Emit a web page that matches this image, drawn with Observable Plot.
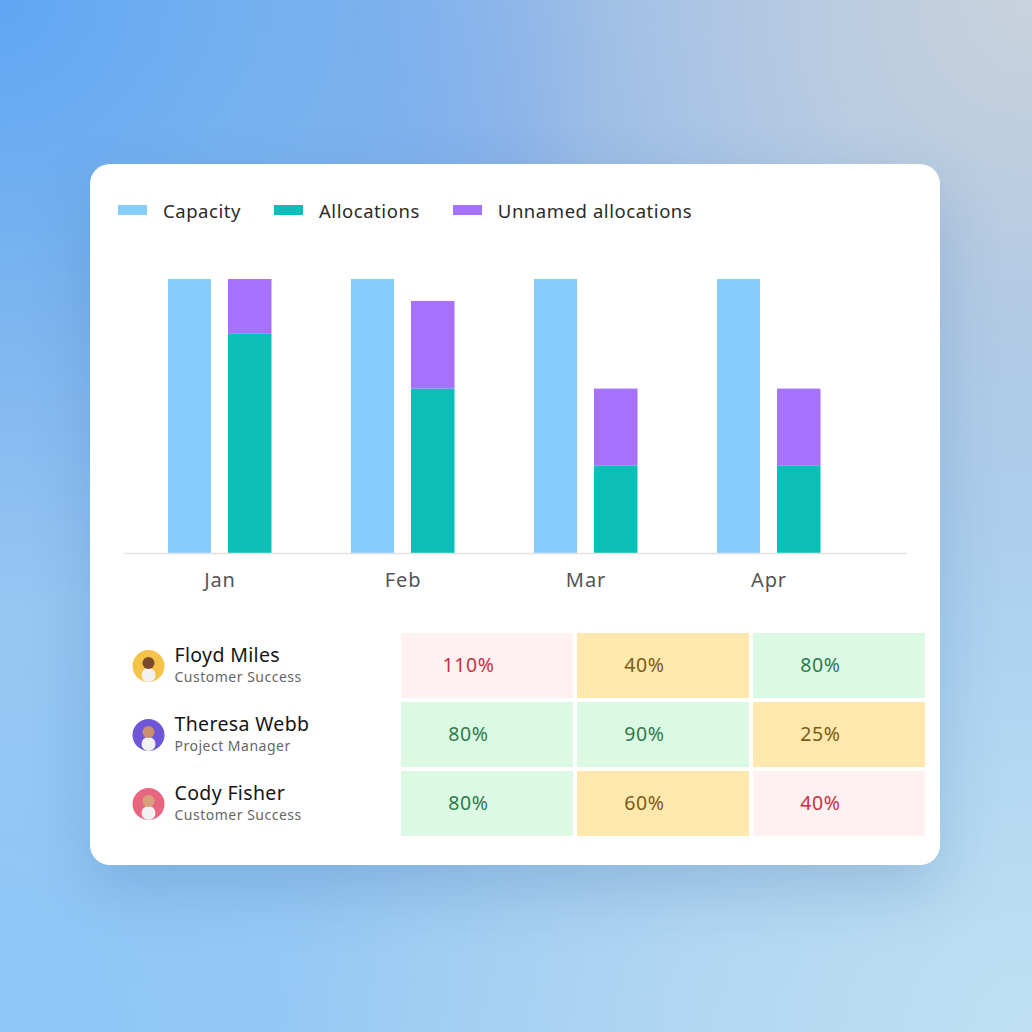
<!DOCTYPE html>
<html>
<head>
<meta charset="utf-8">
<script src="https://cdn.jsdelivr.net/npm/d3@7"></script>
<script src="https://cdn.jsdelivr.net/npm/@observablehq/plot@0.6"></script>
<style>
  html, body { margin: 0; padding: 0; }
  body {
    width: 1032px; height: 1032px; position: relative; overflow: hidden;
    font-family: "Noto Sans", "Open Sans", sans-serif;
    background:
      radial-gradient(circle at 0% 0%, #5fa7f3 0%, rgba(95,167,243,0) 42%),
      radial-gradient(circle at 100% 0%, #c9d2dc 0%, rgba(201,210,220,0) 45%),
      radial-gradient(circle at 100% 100%, #c0e0f2 0%, rgba(192,224,242,0) 50%),
      radial-gradient(circle at 0% 100%, #8dc6f7 0%, rgba(141,198,247,0) 50%),
      radial-gradient(ellipse at 50% 15%, #86b0ea 0%, rgba(134,176,234,0) 45%),
      linear-gradient(180deg, #95bdec 0%, #a2cdf1 100%);
  }
  #card {
    position: absolute; left: 90px; top: 164px; width: 850px; height: 701px;
    background: #fff; border-radius: 20px;
    box-shadow: 0 24px 60px rgba(40, 90, 150, 0.22);
  }
  #legend {
    position: absolute; left: 28px; top: 36px; height: 20px;
    display: flex; align-items: center; gap: 33px;
    font-size: 18.5px; color: #2a2a2a; letter-spacing: 0.55px;
  }
  .item { display: flex; align-items: center; gap: 16px; }
  .sw { width: 29px; height: 10px; }
  #bars { position: absolute; left: 0; top: 90px; }
  #table { position: absolute; left: 0; top: 456px; }
  #table .name { letter-spacing: 0.35px; }
  #table .role { letter-spacing: 0.5px; }
  #table .pct { letter-spacing: 0.6px; }
</style>
</head>
<body>
<div id="card">
  <div id="legend"></div>
  <div id="bars"></div>
  <div id="table"></div>
</div>
<script>
// ---- data ----
const months = ["Jan", "Feb", "Mar", "Apr"];
const capacity = [100, 100, 100, 100];
const allocations = [80, 60, 32, 32];
const unnamedAllocations = [20, 32, 28, 28];
const seriesNames = ["Capacity", "Allocations", "Unnamed allocations"];
const seriesColors = ["#84cdfc", "#0bbfb8", "#a571fd"];

const people = ["Floyd Miles", "Theresa Webb", "Cody Fisher"];
const roles = ["Customer Success", "Project Manager", "Customer Success"];
const avatarColors = ["#f6c34a", "#6f56d8", "#e8667f"];
const avatarSkin = ["#7a4a2e", "#c98f6e", "#d9a07c"];
const periods = ["Jan", "Feb", "Mar"];
const utilization = [[110, 40, 80], [80, 90, 25], [80, 60, 40]];
const levels = [["over", "under", "ok"], ["ok", "ok", "under"], ["ok", "under", "over"]];
const levelNames = ["over", "under", "ok"];
const levelFills = ["#fff0f1", "#ffe8ad", "#dcf9e4"];
const levelInks = ["#c8323f", "#7a5b16", "#2b7c4c"];

// ---- legend ----
const legend = document.getElementById("legend");
seriesNames.forEach((s, i) => {
  const it = document.createElement("div");
  it.className = "item";
  const sw = document.createElement("div");
  sw.className = "sw";
  sw.style.background = seriesColors[i];
  const lb = document.createElement("span");
  lb.textContent = s;
  it.append(sw, lb);
  legend.append(it);
});

// ---- bar chart ----
const capData = months.map((m, i) => ({month: m, series: "Capacity", value: capacity[i]}));
const allocData = months.flatMap((m, i) => [
  {month: m, series: "Allocations", value: allocations[i]},
  {month: m, series: "Unnamed allocations", value: unnamedAllocations[i]}
]);

const bars = Plot.plot({
  width: 850,
  height: 350,
  marginLeft: 34,
  marginRight: 33,
  marginTop: 25,
  marginBottom: 51,
  style: {fontFamily: "'Noto Sans', sans-serif", fontSize: "20px", color: "#555", background: "transparent", letterSpacing: "0.9px"},
  x: {domain: months, range: [37.25, 771.25], padding: 0, label: null, tickSize: 0, tickPadding: 19},
  y: {domain: [0, 100], axis: null},
  color: {domain: seriesNames, range: seriesColors},
  marks: [
    Plot.barY(capData, {x: "month", y: "value", fill: "series", insetLeft: 40, insetRight: 100}),
    Plot.barY(allocData, {x: "month", y: "value", fill: "series", insetLeft: 100, insetRight: 39.5}),
    Plot.ruleY([0], {stroke: "#e2e2e4", strokeWidth: 1.5})
  ]
});
document.getElementById("bars").append(bars);

// ---- table ----
const peopleData = people.map((p, i) => ({name: p, role: roles[i], color: avatarColors[i], skin: avatarSkin[i]}));
const tableData = people.flatMap((p, i) => periods.map((c, j) => {
  const k = levelNames.indexOf(levels[i][j]);
  return {person: p, period: c, value: utilization[i][j], fill: levelFills[k], ink: levelInks[k]};
}));

const table = Plot.plot({
  width: 850,
  height: 230,
  marginLeft: 84,
  marginRight: 12,
  marginTop: 10,
  marginBottom: 11,
  style: {fontFamily: "'Noto Sans', sans-serif", background: "transparent"},
  x: {domain: periods, range: [308, 838], padding: 0, axis: null},
  y: {domain: people, padding: 0, axis: null},
  color: {type: "identity"},
  marks: [
    Plot.cell(tableData, {x: "period", y: "person", fill: "fill", inset: 2}),
    Plot.text(tableData, {x: "period", y: "person", text: d => d.value + "%", fill: "ink", dx: -19, fontSize: 19.5, className: "pct"}),
    Plot.dot(peopleData, {y: "name", frameAnchor: "left", dx: -26, r: 16, fill: "color"}),
    Plot.dot(peopleData, {y: "name", frameAnchor: "left", dx: -26, dy: 9, r: 7, fill: "#f1f1f1"}),
    Plot.dot(peopleData, {y: "name", frameAnchor: "left", dx: -26, dy: -3, r: 6, fill: "skin"}),
    Plot.text(peopleData, {y: "name", text: "name", frameAnchor: "left", textAnchor: "start", dy: -10, fontSize: 19.5, fill: "#151515", className: "name"}),
    Plot.text(peopleData, {y: "name", text: "role", frameAnchor: "left", textAnchor: "start", dy: 12, fontSize: 14, fill: "#666", className: "role"})
  ]
});
document.getElementById("table").append(table);
</script>
</body>
</html>
